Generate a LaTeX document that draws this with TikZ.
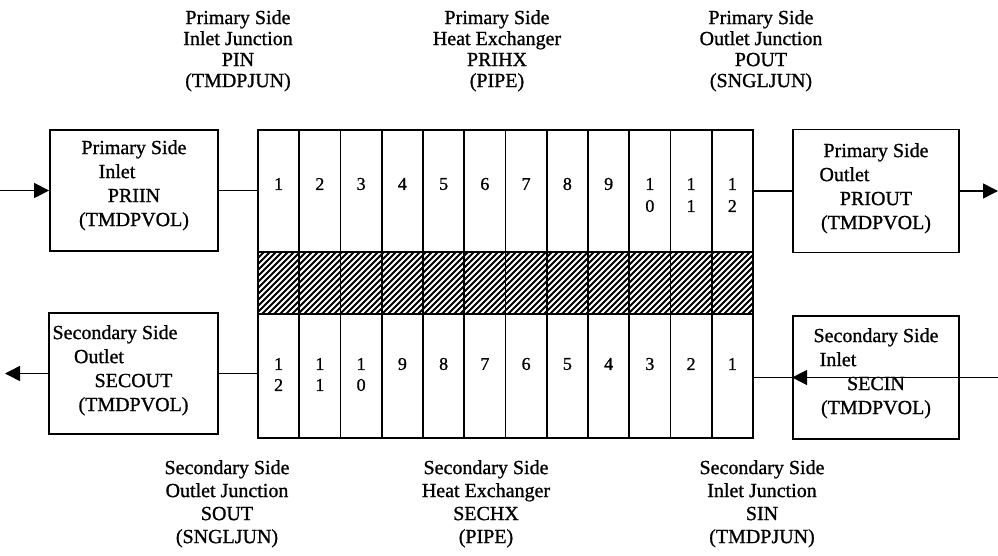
\documentclass[tikz,border=0pt]{standalone}
\usepackage{fontspec}
\setmainfont{Liberation Serif}[FakeBold=1]
\usetikzlibrary{arrows.meta}
\newcommand\padr[1]{\rule{#1}{0pt}}
\begin{document}
\begin{tikzpicture}[x=1pt,y=-1pt,
  box/.style={draw, line width=1.8pt, inner sep=0pt},
  txt/.style={anchor=north, align=center, inner sep=0pt, font=\fontsize{20}{24}\selectfont},
  lbl/.style={anchor=north, align=center, inner sep=0pt, font=\fontsize{20}{23}\selectfont},
  tlbl/.style={anchor=north, align=center, inner sep=0pt, font=\fontsize{20}{21}\selectfont},
  num/.style={inner sep=0pt, font=\fontsize{18}{22}\selectfont},
  cell/.style={line width=1.8pt},
  hatch/.style={line width=2pt},
  conn/.style={line width=1.5pt},
  arr/.style={line width=1.5pt, -{Triangle[length=15pt,width=15pt]}}]
\useasboundingbox (0,0) rectangle (998,555);

% side boxes
\node[box, minimum width=168pt, minimum height=121pt] (priin) at (134,190.5) {};
\node[box, minimum width=166pt, minimum height=123pt] (priout) at (876,191) {};
\node[box, minimum width=169pt, minimum height=121pt] (secout) at (133.5,373.5) {};
\node[box, minimum width=166pt, minimum height=123pt] (secin) at (876,377.5) {};

% central heat exchanger block
\node[box, minimum width=495pt, minimum height=308pt] (blk) at (505.5,284) {};
\begin{scope}
  \clip (258,252) rectangle (753,314);
  \foreach \x in {190,196,...,760} \draw[hatch] (\x,314) -- (\x+62,252);
\end{scope}
\node[box, minimum width=495pt, minimum height=62pt] (band) at (505.5,283) {};
\foreach \i in {1,...,11} \draw[cell] ({258+41.25*\i},130) -- ({258+41.25*\i},438);

% cell numbers, primary side
\foreach \n in {1,...,9} \node[num] at ({258+41.25*(\n-0.5)},184) {\n};
\foreach \n/\d in {10/0,11/1,12/2} {
  \node[num] at ({258+41.25*(\n-0.5)},184) {1};
  \node[num] at ({258+41.25*(\n-0.5)},206) {\d};
}
% cell numbers, secondary side
\foreach \k/\d in {1/2,2/1,3/0} {
  \node[num] at ({258+41.25*(\k-0.5)},364) {1};
  \node[num] at ({258+41.25*(\k-0.5)},385) {\d};
}
\foreach \k in {4,...,12} {
  \pgfmathtruncatemacro{\lab}{13-\k}
  \node[num] at ({258+41.25*(\k-0.5)},364) {\lab};
}

% connectors
\draw[conn] (priin.east) -- (priin.east -| blk.west);
\draw[conn] (priout.west) -- (priout.west -| blk.east);
\draw[conn] (secout.east) -- (secout.east -| blk.west);
\draw[conn] (secin.west) -- (secin.west -| blk.east);

\coordinate (pin0) at (0,190.5);
\coordinate (pout1) at (998,191);
\coordinate (sout1) at (5,373.5);
\coordinate (sin0) at (998,377.5);
\draw[arr] (pin0) -- (priin.west);
\draw[arr] (priout.east) -- (pout1);
\draw[arr] (secout.west) -- (sout1);
\draw[arr] (sin0) -- (secin.west);

% box texts
\node[txt] at (134,140) {Primary Side\\Inlet\padr{34pt}\\PRIIN\\(TMDPVOL)};
\node[txt] at (876,143) {Primary Side\\Outlet\padr{63pt}\\PRIOUT\\(TMDPVOL)};
\node[txt] at (133.5,325) {Secondary Side\padr{37pt}\\Outlet\padr{69pt}\\SECOUT\\(TMDPVOL)};
\node[txt] at (876,328) {Secondary Side\\Inlet\padr{76pt}\\SECIN\\(TMDPVOL)};

% labels
\node[tlbl] at (238,10) {Primary Side\\Inlet Junction\\PIN\\(TMDPJUN)};
\node[tlbl] at (497,10) {Primary Side\\Heat Exchanger\\PRIHX\\(PIPE)};
\node[tlbl] at (761,10) {Primary Side\\Outlet Junction\\POUT\\(SNGLJUN)};
\node[lbl] at (227,460) {Secondary Side\\Outlet Junction\\SOUT\\(SNGLJUN)};
\node[lbl] at (486,460) {Secondary Side\\Heat Exchanger\\SECHX\\(PIPE)};
\node[lbl] at (762,460) {Secondary Side\\Inlet Junction\\SIN\\(TMDPJUN)};
\end{tikzpicture}
\end{document}
